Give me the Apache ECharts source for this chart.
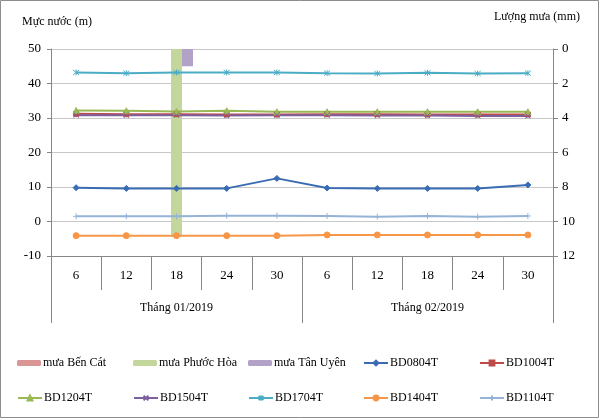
<!DOCTYPE html>
<html><head><meta charset="utf-8">
<script src="https://cdn.jsdelivr.net/npm/echarts@6/dist/echarts.min.js"></script>
<style>html,body{margin:0;padding:0;background:#fff}#c{width:600px;height:419px}</style>
</head><body><div id="c"></div>
<script>
const days = ['6','12','18','24','30','6','12','18','24','30'];
const months = ['Tháng 01/2019','Tháng 02/2019'];
const leftTicks = {min:-10, max:50, interval:10};
const rightTicks = {min:0, max:12, interval:2};
const rainBenCat  = [0,0,0,0,0,0,0,0,0,0];
const rainPhuocHoa = [0,0,10.9,0,0,0,0,0,0,0];
const rainTanUyen = [0,0,1.0,0,0,0,0,0,0,0];
const BD0804T = [9.8,9.6,9.6,9.6,12.5,9.7,9.6,9.6,9.6,10.6];
const BD1004T = [31.2,31.1,31.1,31.0,31.0,31.1,31.1,31.0,31.0,31.0];
const BD1204T = [32.2,32.1,31.9,32.1,31.8,31.8,31.8,31.8,31.8,31.8];
const BD1504T = [30.8,30.8,30.8,30.7,30.8,30.8,30.7,30.7,30.6,30.6];
const BD1704T = [43.2,43.0,43.2,43.2,43.2,43.0,42.9,43.1,42.9,43.0];
const BD1404T = [-4.1,-4.1,-4.1,-4.1,-4.1,-3.9,-3.9,-3.9,-3.9,-3.9];
const BD1104T = [1.5,1.5,1.5,1.7,1.7,1.6,1.4,1.6,1.4,1.6];

const FONT = 'Liberation Serif';
const axisGray = '#868686';
const gridGray = '#c8c8c8';

const SYM_X = 'path://M0,0L10,10M10,0L0,10';
const SYM_AST = 'path://M0,0L10,10M10,0L0,10M5,-1L5,11';
const SYM_PLUS = 'path://M5,0L5,10M0,5L10,5';

function bar(name, data, color){
  return {name, type:'bar', data, xAxisIndex:0, yAxisIndex:1, barWidth:11, barGap:'0%',
    itemStyle:{color}, z:1};
}
function line(name, data, color, symbol, size){
  return {name, type:'line', data, xAxisIndex:0, yAxisIndex:0, symbol, symbolSize:size||5,
    lineStyle:{color, width:2}, itemStyle:{color, borderColor:color, borderWidth:1}, z:3};
}
const series = [
  bar('mưa Bến Cát', rainBenCat, '#d99694'),
  bar('mưa Phước Hòa', rainPhuocHoa, '#c3d69b'),
  bar('mưa Tân Uyên', rainTanUyen, '#b3a2c7'),
  line('BD0804T', BD0804T, '#3a6cb4', 'diamond', 6),
  line('BD1004T', BD1004T, '#be4b48', 'rect', 5),
  line('BD1204T', BD1204T, '#98b954', 'triangle', 6),
  line('BD1504T', BD1504T, '#7d60a0', SYM_X, 5),
  line('BD1704T', BD1704T, '#4bacc6', SYM_AST, 6),
  line('BD1404T', BD1404T, '#f79646', 'circle', 6),
  line('BD1104T', BD1104T, '#95b3d7', SYM_PLUS, 6)
];
const colsX = [17,133,248,363,479];
const rowsY = [357,392];
const legends = series.map((s,i)=>({
  data:[s.name], left: colsX[i%5], top: rowsY[Math.floor(i/5)],
  itemWidth:24, itemHeight:6, itemGap:0, padding:0,
  textStyle:{fontFamily:FONT, fontSize:12, color:'#000', padding:[0,0,0,-3]},
  selectedMode:false
}));

const chart = echarts.init(document.getElementById('c'));
chart.setOption({
  animation:false,
  backgroundColor:'#fff',
  grid:{left:51, right:47, top:49, bottom:163},
  legend: legends,
  graphic:[
    {type:'rect', shape:{x:0.5,y:0.5,width:598,height:417}, style:{fill:'none', stroke:'#8c8c8c', lineWidth:1}, silent:true},
    {type:'text', left:22, top:16, style:{text:'Mực nước (m)', font:'12px "Liberation Serif"', fill:'#000'}},
    {type:'text', left:494, top:11, style:{text:'Lượng mưa (mm)', font:'12px "Liberation Serif"', fill:'#000'}}
  ],
  xAxis:[
    {type:'category', data:days, position:'bottom', boundaryGap:true,
      axisLine:{show:true, onZero:false, lineStyle:{color:axisGray}},
      axisTick:{show:true, interval:0, length:34, lineStyle:{color:axisGray}},
      axisLabel:{interval:0, margin:13, fontFamily:FONT, fontSize:13, color:'#000'},
      splitLine:{show:false}},
    {type:'category', data:months, position:'bottom', boundaryGap:true,
      axisLine:{show:false, onZero:false},
      axisTick:{show:true, interval:0, length:67, lineStyle:{color:axisGray}},
      axisLabel:{interval:0, margin:46, fontFamily:FONT, fontSize:12, color:'#000'},
      splitLine:{show:false}}
  ],
  yAxis:[
    {type:'value', min:leftTicks.min, max:leftTicks.max, interval:leftTicks.interval, position:'left',
      axisLine:{show:true, onZero:false, lineStyle:{color:axisGray}},
      axisTick:{show:true, length:4, inside:false, lineStyle:{color:axisGray}},
      axisLabel:{margin:10, fontFamily:FONT, fontSize:13, color:'#000'},
      splitLine:{show:true, lineStyle:{color:gridGray, width:1}}},
    {type:'value', min:rightTicks.min, max:rightTicks.max, interval:rightTicks.interval, position:'right', inverse:true,
      axisLine:{show:true, onZero:false, lineStyle:{color:axisGray}},
      axisTick:{show:true, length:5, inside:false, lineStyle:{color:axisGray}},
      axisLabel:{margin:9, fontFamily:FONT, fontSize:13, color:'#000'},
      splitLine:{show:false}}
  ],
  series
});
</script></body></html>
